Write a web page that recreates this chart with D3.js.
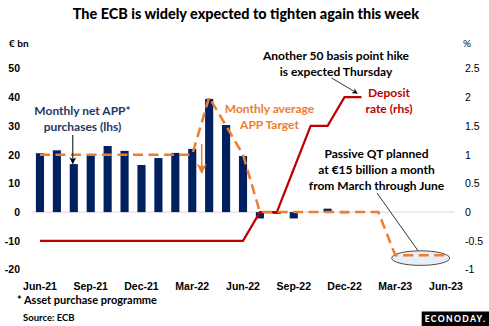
<!DOCTYPE html>
<html>
<head>
<meta charset="utf-8">
<script src="https://cdn.jsdelivr.net/npm/d3@7"></script>
<style>
  body { margin: 0; background: #fff; }
  svg { display: block; font-family: Lato, "Open Sans", sans-serif; }
  .tick text { font-size: 10.5px; fill: #000; }
  .note { font-weight: bold; font-size: 12px; text-anchor: middle; }
</style>
</head>
<body>
<svg id="chart" width="489" height="326"></svg>
<script>
// ----------------
// Data
// ----------------

const months = ["Jun-21", "Jul-21", "Aug-21", "Sep-21", "Oct-21", "Nov-21", "Dec-21",
  "Jan-22", "Feb-22", "Mar-22", "Apr-22", "May-22", "Jun-22", "Jul-22", "Aug-22",
  "Sep-22", "Oct-22", "Nov-22", "Dec-22", "Jan-23", "Feb-23", "Mar-23", "Apr-23",
  "May-23", "Jun-23"];

// monthly net APP purchases, € bn (lhs)
const purchases = [20.5, 21.5, 16.7, 19.6, 23, 21.3, 16.4, 18.8, 20.6, 22, 39.4, 30.3,
  19.5, -2.2, -0.6, -2.2, 0, 1.2, -0.4, null, null, null, null, null, null];

// monthly average APP target, € bn (lhs)
const appTarget = [20, 20, 20, 20, 20, 20, 20, 20, 20, 20, 40, 30, 20, 0, 0, 0, 0, 0,
  0, 0, 0, -15, -15, -15, -15];

// deposit rate, % (rhs)
const depositRate = [-0.5, -0.5, -0.5, -0.5, -0.5, -0.5, -0.5, -0.5, -0.5, -0.5, -0.5,
  -0.5, -0.5, 0, 0, 0.75, 1.5, 1.5, 2, 2, null, null, null, null, null];

const leftTicks = [-20, -10, 0, 10, 20, 30, 40, 50];
const rightTicks = [-1, -0.5, 0, 0.5, 1, 1.5, 2, 2.5];
const monthTicks = ["Jun-21", "Sep-21", "Dec-21", "Mar-22", "Jun-22", "Sep-22",
  "Dec-22", "Mar-23", "Jun-23"];

// ----------------
// Scales
// ----------------

const svg = d3.select("#chart");

const x = d3.scaleBand().domain(months).range([31.5, 454.5]);
const yL = d3.scaleLinear().domain([-20, 50]).range([269.6, 68.4]);
const yR = d3.scaleLinear().domain([-1, 2.5]).range([269.6, 68.4]);
const cx = d => x(d) + x.bandwidth() / 2;

const navy = "#002060", orange = "#ED7D31", red = "#C00000";

// arrow heads
const defs = svg.append("defs");
[["arrowBlack", "#000"], ["arrowOrange", orange]].forEach(([id, col]) => {
  defs.append("marker")
    .attr("id", id)
    .attr("viewBox", "0 0 10 10")
    .attr("refX", 9).attr("refY", 5)
    .attr("markerWidth", 7).attr("markerHeight", 7)
    .attr("orient", "auto")
    .append("path")
      .attr("d", "M0,0 L10,5 L0,10 L3,5 Z")
      .attr("fill", col);
});

// ----------------
// Title
// ----------------

svg.append("text")
  .attr("x", 246).attr("y", 19)
  .attr("text-anchor", "middle")
  .style("font-weight", "900").style("font-size", "14.4px")
  .text("The ECB is widely expected to tighten again this week");

svg.append("text").attr("x", 9).attr("y", 47)
  .style("font-weight", "bold").style("font-size", "10px").text("€ bn");
svg.append("text").attr("x", 463).attr("y", 47)
  .style("font-size", "10px").text("%");

// ----------------
// Axes
// ----------------

svg.append("line")
  .attr("x1", 31.5).attr("x2", 454.5)
  .attr("y1", yL(0)).attr("y2", yL(0))
  .attr("stroke", "#D9D9D9").attr("stroke-width", 1);

svg.append("g")
  .attr("transform", "translate(21,0)")
  .call(d3.axisLeft(yL).tickValues(leftTicks).tickSize(0).tickPadding(1)
    .tickFormat(d => String(d)))
  .call(g => g.select(".domain").remove())
  .selectAll("text").style("font-weight", "bold");

svg.append("g")
  .attr("transform", "translate(462,0)")
  .call(d3.axisRight(yR).tickValues(rightTicks).tickSize(0).tickPadding(3)
    .tickFormat(d => String(d)))
  .call(g => g.select(".domain").remove());

svg.append("g")
  .attr("transform", "translate(0,278)")
  .call(d3.axisBottom(x).tickValues(monthTicks).tickSize(0).tickPadding(5))
  .call(g => g.select(".domain").remove())
  .selectAll("text").style("font-weight", "bold");

// ----------------
// Bars
// ----------------

const barW = x.bandwidth() * 0.48;
svg.append("g")
  .selectAll("rect")
  .data(months.map((m, i) => ({m, v: purchases[i]})).filter(d => d.v !== null))
  .join("rect")
    .attr("x", d => cx(d.m) - barW / 2)
    .attr("width", barW)
    .attr("y", d => yL(Math.max(0, d.v)))
    .attr("height", d => Math.abs(yL(d.v) - yL(0)))
    .attr("fill", navy);

// ellipse round the passive QT section
svg.append("ellipse")
  .attr("cx", (cx("Apr-23") + cx("May-23")) / 2).attr("cy", yL(-16))
  .attr("rx", 29).attr("ry", 7.3)
  .attr("fill", "#E9EDF6").attr("stroke", "#222").attr("stroke-width", 0.8);

// ----------------
// Lines
// ----------------

const lineL = d3.line()
  .defined(d => d.v !== null)
  .x(d => cx(d.m)).y(d => yL(d.v));
const lineR = d3.line()
  .defined(d => d.v !== null)
  .x(d => cx(d.m)).y(d => yR(d.v));

svg.append("path")
  .datum(months.map((m, i) => ({m, v: depositRate[i]})))
  .attr("d", lineR)
  .attr("fill", "none").attr("stroke", red).attr("stroke-width", 2.2);

svg.append("path")
  .datum(months.map((m, i) => ({m, v: appTarget[i]})))
  .attr("d", lineL)
  .attr("fill", "none").attr("stroke", orange).attr("stroke-width", 2.5)
  .attr("stroke-dasharray", "10,5.5");

// ----------------
// Annotations
// ----------------

function note(lines, xPos, yPos, color) {
  const t = svg.append("text").attr("class", "note").attr("fill", color);
  lines.forEach((l, i) => {
    t.append("tspan").attr("x", xPos).attr("y", yPos + i * 16.2).text(l);
  });
}

note(["Monthly net APP*", "purchases (lhs)"], 82.5, 115, "#1F3864");
note(["Monthly average", "APP Target"], 269.5, 113, orange);
note(["Another 50 basis point hike", "is expected Thursday"], 336, 60, "#000");
note(["Deposit", "rate (rhs)"], 389, 97, red);
note(["Passive QT planned", "at €15 billion a month", "from March through June"], 376.5, 157.5, "#000");

svg.append("line")
  .attr("x1", cx("Aug-21") - 1).attr("y1", 135)
  .attr("x2", cx("Aug-21") - 1).attr("y2", yL(16.9))
  .attr("stroke", "#000").attr("stroke-width", 1)
  .attr("marker-end", "url(#arrowBlack)");

svg.append("line")
  .attr("x1", 201.7).attr("y1", 144)
  .attr("x2", 201.7).attr("y2", 173)
  .attr("stroke", orange).attr("stroke-width", 1.5)
  .attr("marker-end", "url(#arrowOrange)");

svg.append("line")
  .attr("x1", 331.7).attr("y1", 78)
  .attr("x2", 357.3).attr("y2", 93.3)
  .attr("stroke", "#000").attr("stroke-width", 0.8)
  .attr("marker-end", "url(#arrowBlack)");

svg.append("line")
  .attr("x1", 377).attr("y1", 193)
  .attr("x2", 418).attr("y2", 250.7)
  .attr("stroke", "#000").attr("stroke-width", 0.8);

// ----------------
// Footer
// ----------------

svg.append("text").attr("x", 17).attr("y", 304)
  .style("font-size", "11px").style("font-weight", "bold")
  .text("* Asset purchase programme");
svg.append("text").attr("x", 23).attr("y", 320.5)
  .style("font-size", "9.5px").style("font-weight", "bold")
  .text("Source: ECB");

svg.append("rect")
  .attr("x", 421.7).attr("y", 311.5).attr("width", 68).attr("height", 15)
  .attr("fill", "#000");
svg.append("text")
  .attr("x", 455.5).attr("y", 321.8)
  .attr("text-anchor", "middle").attr("fill", "#fff")
  .style("font-size", "8.5px").style("font-weight", "900").style("letter-spacing", "1.4px")
  .text("ECONODAY.");
</script>
</body>
</html>
